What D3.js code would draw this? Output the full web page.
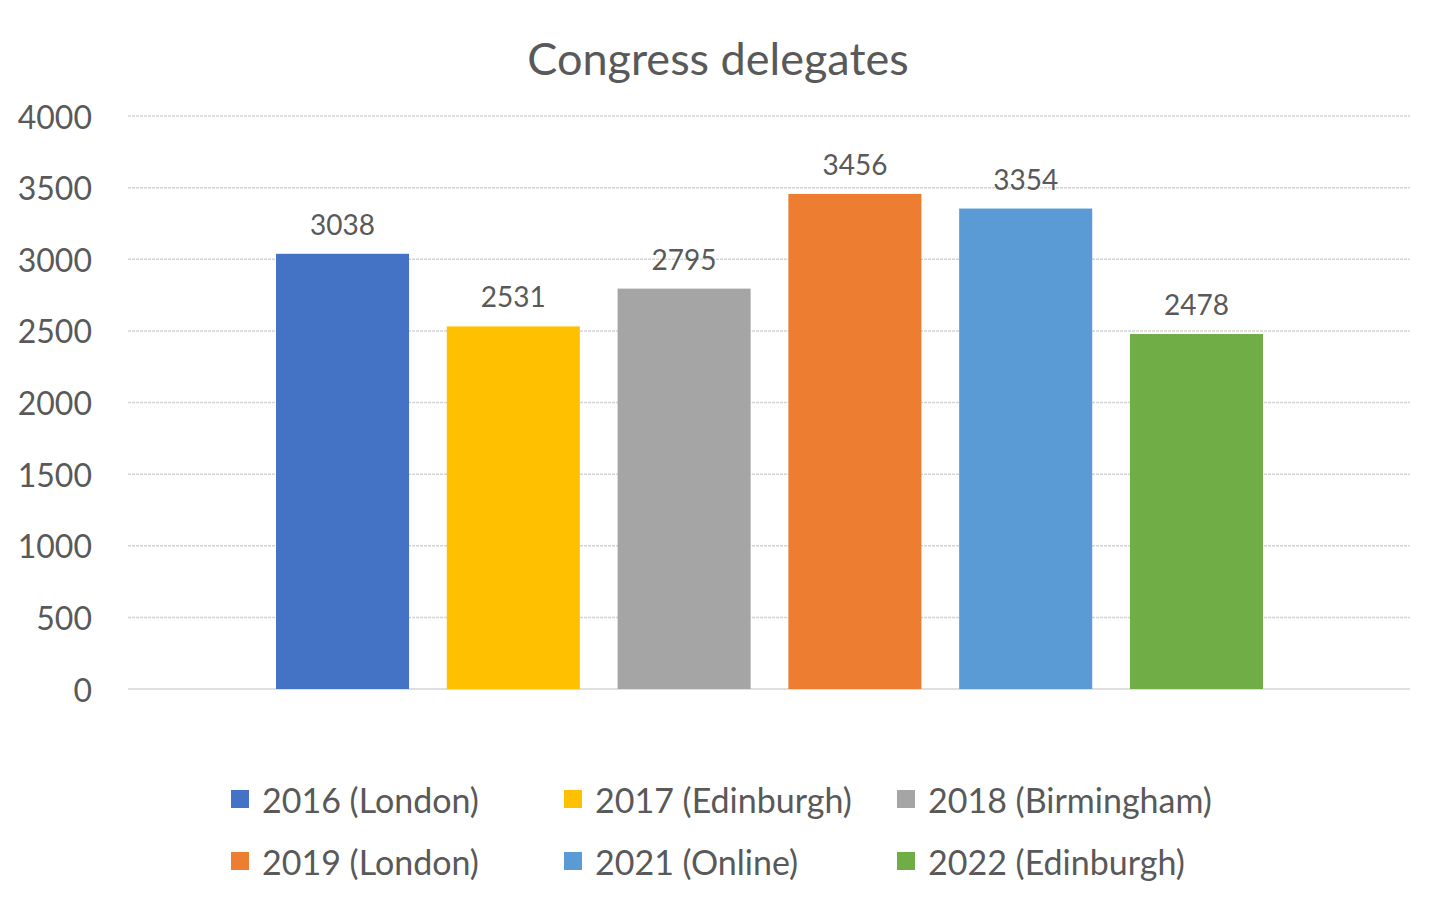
<!DOCTYPE html>
<html>
<head>
<meta charset="utf-8">
<script src="https://cdn.jsdelivr.net/npm/d3@7"></script>
<style>
  body { margin: 0; background: #fff; }
  text { font-family: Lato, "Open Sans", sans-serif; fill: #595959; }
</style>
</head>
<body>
<svg id="chart" width="1434" height="898"></svg>
<script>
'use strict'

const series = ['2016 (London)', '2017 (Edinburgh)', '2018 (Birmingham)', '2019 (London)', '2021 (Online)', '2022 (Edinburgh)']
const values = [3038, 2531, 2795, 3456, 3354, 2478]
const colors = ['#4472C4', '#FFC000', '#A5A5A5', '#ED7D31', '#5B9BD5', '#70AD47']
const yTicks = [0, 500, 1000, 1500, 2000, 2500, 3000, 3500, 4000]

const svg = d3.select('#chart')
const plotLeft = 128, plotRight = 1410, plotTop = 116, plotBottom = 689

svg.append('rect').attr('width', 1434).attr('height', 898).attr('fill', '#fff')

svg.append('text')
    .attr('x', 718).attr('y', 58)
    .attr('text-anchor', 'middle').attr('dominant-baseline', 'central')
    .attr('font-size', 45)
    .text('Congress delegates')

let y = d3.scaleLinear().domain([0, 4000]).range([plotBottom, plotTop])

// one category, six series clustered in the middle
let x = d3.scaleBand().domain(series).range([276, 1263]).paddingInner(0.221).paddingOuter(0)

svg.append('g').selectAll('line').data(yTicks).enter().append('line')
    .attr('x1', plotLeft).attr('x2', plotRight)
    .attr('y1', d => y(d)).attr('y2', d => y(d))
    .attr('stroke', '#d4d4d4').attr('stroke-width', 1.5)
    .attr('stroke-dasharray', d => d === 0 ? null : '3,1')

svg.append('g').selectAll('text').data(yTicks).enter().append('text')
    .attr('x', 92).attr('y', d => y(d))
    .attr('text-anchor', 'end').attr('dominant-baseline', 'central')
    .attr('font-size', 32)
    .text(d => d)

let bars = svg.append('g').selectAll('g').data(series).enter().append('g')

bars.append('rect')
    .attr('x', d => x(d))
    .attr('width', x.bandwidth())
    .attr('y', (d, i) => y(values[i]))
    .attr('height', (d, i) => y(0) - y(values[i]))
    .attr('fill', (d, i) => colors[i])

bars.append('text')
    .attr('x', d => x(d) + x.bandwidth() / 2)
    .attr('y', (d, i) => y(values[i]) - 30)
    .attr('text-anchor', 'middle').attr('dominant-baseline', 'central')
    .attr('font-size', 28)
    .attr('fill', '#404040')
    .text((d, i) => values[i])

let legend = svg.append('g').selectAll('g').data(series).enter().append('g')
    .attr('transform', (d, i) => `translate(${231 + (i % 3) * 333}, ${799 + Math.floor(i / 3) * 62})`)

legend.append('rect')
    .attr('x', 0).attr('y', -9).attr('width', 18).attr('height', 18)
    .attr('fill', (d, i) => colors[i])

legend.append('text')
    .attr('x', 31).attr('y', 0)
    .attr('dominant-baseline', 'central')
    .attr('font-size', 34)
    .text(d => d)
</script>
</body>
</html>
